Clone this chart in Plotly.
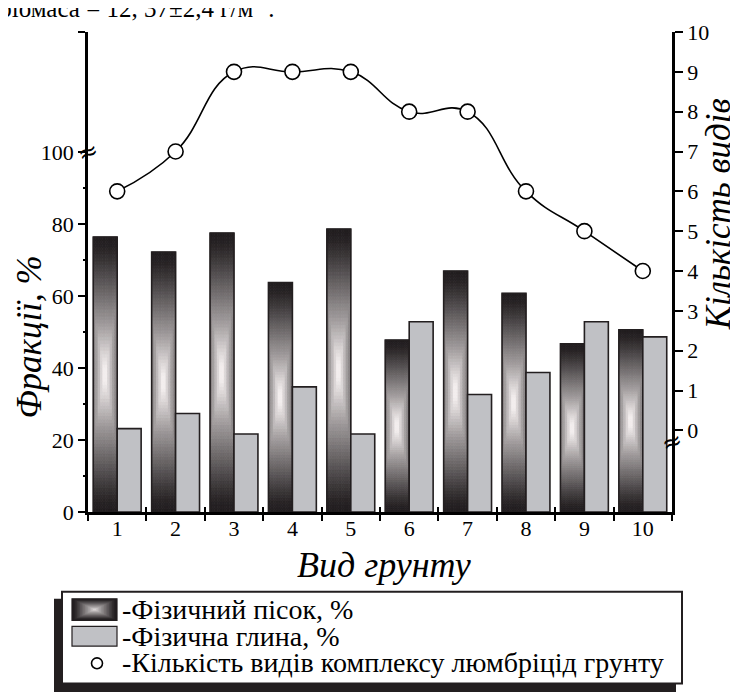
import plotly.graph_objects as go

# ---------------- data ----------------
categories = [1, 2, 3, 4, 5, 6, 7, 8, 9, 10]
cat_labels = ["1", "2", "3", "4", "5", "6", "7", "8", "9", "10"]
sand = [76.5, 72.3, 77.6, 63.8, 78.7, 47.8, 67.0, 60.8, 46.8, 50.7]   # Фізичний пісок, %
clay = [23.2, 27.4, 21.7, 34.8, 21.7, 52.9, 32.7, 38.8, 52.9, 48.7]   # Фізична глина, %
species = [6, 7, 9, 9, 9, 8, 8, 6, 5, 4]                               # Кількість видів

left_ticks = [0, 20, 40, 60, 80, 100]
left_minor = [10, 30, 50, 70, 90]
right_ticks = [0, 1, 2, 3, 4, 5, 6, 7, 8, 9, 10]

FONT = "Liberation Serif, DejaVu Serif, serif"
DARK = "#231F20"
CLAY_COL = "#C0C1C5"

# ---------------- geometry (page has an 8px body margin) ----------------
OFF = 8
W, H = 738 - OFF, 692 - OFF
L, R, T, B = 88 - OFF, 66, 25 - OFF, 180
PW, PH = W - L - R, H - T - B
YTOP = 133.5
BW = 0.41  # bar width (in category units)


def px(xpage):
    return (xpage - OFF - L) / PW


def py(ypage):
    return (H - B - (ypage - OFF)) / PH


def shade(d):
    pts = [(0.0, 255), (0.12, 226), (0.35, 162), (0.6, 105), (0.82, 55), (0.92, 36), (1.0, 30)]
    d = max(0.0, min(1.0, d))
    v = pts[-1][1]
    for (a, va), (b, vb) in zip(pts[:-1], pts[1:]):
        if a <= d <= b:
            v = va + (vb - va) * (d - a) / (b - a)
            break
    return "rgb(%d,%d,%d)" % (round(v + 4 * (1 - v / 255)), round(v * 0.98), round(v * 0.98 + 2 * (1 - v / 255)))


fig = go.Figure()

# gradient-filled sand bars: each column trace holds NV stacked slices of every sand value
NV, NH = 80, 10
for j in range(NH):
    upos = ((j + 0.5) / NH) * 2 - 1
    xs, ys, bases, cols = [], [], [], []
    for k in range(NV):
        vpos = ((k + 0.5) / NV) * 2 - 1
        col = shade(max(abs(vpos), 0.5 * abs(upos)))
        for c, s in zip(categories, sand):
            xs.append(c)
            ys.append(s / NV)
            bases.append(s * k / NV)
            cols.append(col)
    fig.add_trace(go.Bar(
        x=xs, y=ys, base=bases,
        width=BW / NH, offset=-BW + j * BW / NH,
        marker=dict(color=cols, line=dict(width=0.8, color=cols)),
        hoverinfo="skip", showlegend=False,
    ))

# outline of sand bars
fig.add_trace(go.Bar(
    x=categories, y=sand, width=BW, offset=-BW,
    marker=dict(color="rgba(0,0,0,0)", line=dict(color=DARK, width=1.6)),
    name="Фізичний пісок, %", showlegend=False,
))

# clay bars
fig.add_trace(go.Bar(
    x=categories, y=clay, width=BW, offset=0,
    marker=dict(color=CLAY_COL, line=dict(color=DARK, width=1.6)),
    name="Фізична глина, %", showlegend=False,
))

# species line
fig.add_trace(go.Scatter(
    x=categories, y=species, yaxis="y2",
    mode="lines+markers",
    line=dict(color="black", width=1.6, shape="spline", smoothing=1.3),
    marker=dict(symbol="circle", size=15, color="white", line=dict(color="black", width=1.6)),
    name="Кількість видів", showlegend=False,
))

# dummy trace so the helper tick axes are rendered
fig.add_trace(go.Scatter(x=[None], y=[None], xaxis="x2", yaxis="y3", showlegend=False, hoverinfo="skip"))

boundaries = [c - 0.5 for c in categories] + [categories[-1] + 0.5]

fig.update_layout(
    width=W, height=H, autosize=False,
    margin=dict(l=L, r=R, t=T, b=B),
    paper_bgcolor="white", plot_bgcolor="white",
    barmode="overlay",
    showlegend=False,
    font=dict(family=FONT, color="black", size=22),
    xaxis=dict(
        range=[0.5, 10.5], tickmode="array", tickvals=categories, ticktext=cat_labels,
        ticks="", ticklen=0, showline=True, linewidth=2.5, linecolor="black",
        showgrid=False, zeroline=False, tickfont=dict(family=FONT, size=22),
        ticklabelstandoff=-5,
        minor=dict(tickmode="array", tickvals=boundaries, ticks="outside", ticklen=6,
                   tickwidth=2, tickcolor="black", showgrid=False),
    ),
    xaxis2=dict(
        overlaying="x", anchor="y", side="bottom", range=[0.5, 10.5],
        tickmode="array", tickvals=boundaries, ticks="inside", ticklen=5, tickwidth=2,
        tickcolor="black", showticklabels=False, showline=False, showgrid=False, zeroline=False,
    ),
    yaxis=dict(
        range=[0, YTOP], tickmode="array", tickvals=left_ticks + [YTOP],
        ticktext=[str(v) for v in left_ticks] + [""],
        ticks="outside", ticklen=7, tickwidth=2, tickcolor="black",
        showline=True, linewidth=2.5, linecolor="black",
        showgrid=False, zeroline=False, tickfont=dict(family=FONT, size=22),
    ),
    yaxis3=dict(
        overlaying="y", anchor="x", side="left", range=[0, YTOP],
        tickmode="array", tickvals=left_minor, ticks="outside", ticklen=4, tickwidth=2,
        tickcolor="black", showticklabels=False, showline=False, showgrid=False, zeroline=False,
    ),
    yaxis2=dict(
        overlaying="y", anchor="x", side="right", range=[-2.05, 10],
        tickmode="array", tickvals=right_ticks, ticktext=[str(v) for v in right_ticks],
        ticks="outside", ticklen=8, tickwidth=2, tickcolor="black",
        showline=True, linewidth=2.5, linecolor="black",
        showgrid=False, zeroline=False, tickfont=dict(family=FONT, size=22),
    ),
)

ann = []
# axis titles
ann.append(dict(text="<i>Фракції, %</i>", xref="paper", yref="paper", x=px(30), y=py(335),
                xanchor="center", yanchor="middle",
                textangle=-90, showarrow=False, font=dict(family=FONT, size=35)))
ann.append(dict(text="<i>Кількість видів</i>", xref="paper", yref="paper", x=px(718), y=py(210),
                xanchor="center", yanchor="middle",
                textangle=-90, showarrow=False, font=dict(family=FONT, size=35)))
ann.append(dict(text="<i>Вид грунту</i>", xref="paper", yref="paper", x=px(384), y=py(566),
                xanchor="center", yanchor="middle",
                showarrow=False, font=dict(family=FONT, size=36)))
# axis breaks
ann.append(dict(text="≈", xref="paper", yref="y", x=0, y=100, showarrow=False,
                xanchor="center", yanchor="middle",
                font=dict(family="DejaVu Sans", size=24), textangle=-20))
ann.append(dict(text="≈", xref="paper", yref="y2", x=1, y=-0.3, showarrow=False,
                xanchor="center", yanchor="middle",
                font=dict(family="DejaVu Sans", size=24), textangle=-20))
# clipped text at the very top
ann.append(dict(text="біомаса = 12, 37±2,4 г/м<sup>2</sup> .", xref="paper", yref="paper",
                x=px(-3), y=py(17), xanchor="left", yanchor="bottom", showarrow=False,
                font=dict(family=FONT, size=25)))
# legend texts
leg_rows = [611, 638, 665]
leg_texts = ["-Фізичний пісок, %", "-Фізична глина, %", "-Кількість видів комплексу люмбріцід грунту"]
for yy, tt in zip(leg_rows, leg_texts):
    ann.append(dict(text=tt, xref="paper", yref="paper", x=px(120), y=py(yy),
                    xanchor="left", yanchor="middle", showarrow=False,
                    font=dict(family=FONT, size=28)))

shapes = []
# legend shadow and box
shapes.append(dict(type="rect", xref="paper", yref="paper", x0=px(54), x1=px(676), y0=py(600), y1=py(700),
                   fillcolor=DARK, line=dict(width=0), layer="above"))
shapes.append(dict(type="rect", xref="paper", yref="paper", x0=px(62), x1=px(682), y0=py(593), y1=py(686),
                   fillcolor="white", line=dict(color=DARK, width=2), layer="above"))
# gradient swatch (square gradient)
sx0, sx1, sy0, sy1 = 72, 117, 600, 622
NS = 14
for i in range(NS):
    f = i / NS
    d = 1 - f
    shapes.append(dict(type="rect", xref="paper", yref="paper",
                       x0=px(sx0 + f * (sx1 - sx0) / 2), x1=px(sx1 - f * (sx1 - sx0) / 2),
                       y0=py(sy0 + f * (sy1 - sy0) / 2), y1=py(sy1 - f * (sy1 - sy0) / 2),
                       fillcolor=shade(0.1 + 0.9 * d), line=dict(width=0), layer="above"))
shapes.append(dict(type="rect", xref="paper", yref="paper", x0=px(sx0), x1=px(sx1), y0=py(sy0), y1=py(sy1),
                   fillcolor="rgba(0,0,0,0)", line=dict(color=DARK, width=1.2), layer="above"))
# clay swatch
shapes.append(dict(type="rect", xref="paper", yref="paper", x0=px(72), x1=px(117), y0=py(628), y1=py(648),
                   fillcolor=CLAY_COL, line=dict(color=DARK, width=1.2), layer="above"))
# circle symbol
shapes.append(dict(type="circle", xref="paper", yref="paper", x0=px(91.5), x1=px(102.5), y0=py(660), y1=py(671),
                   fillcolor="white", line=dict(color="black", width=1.6), layer="above"))

fig.update_layout(annotations=ann, shapes=shapes)

fig.write_html("out.html")
